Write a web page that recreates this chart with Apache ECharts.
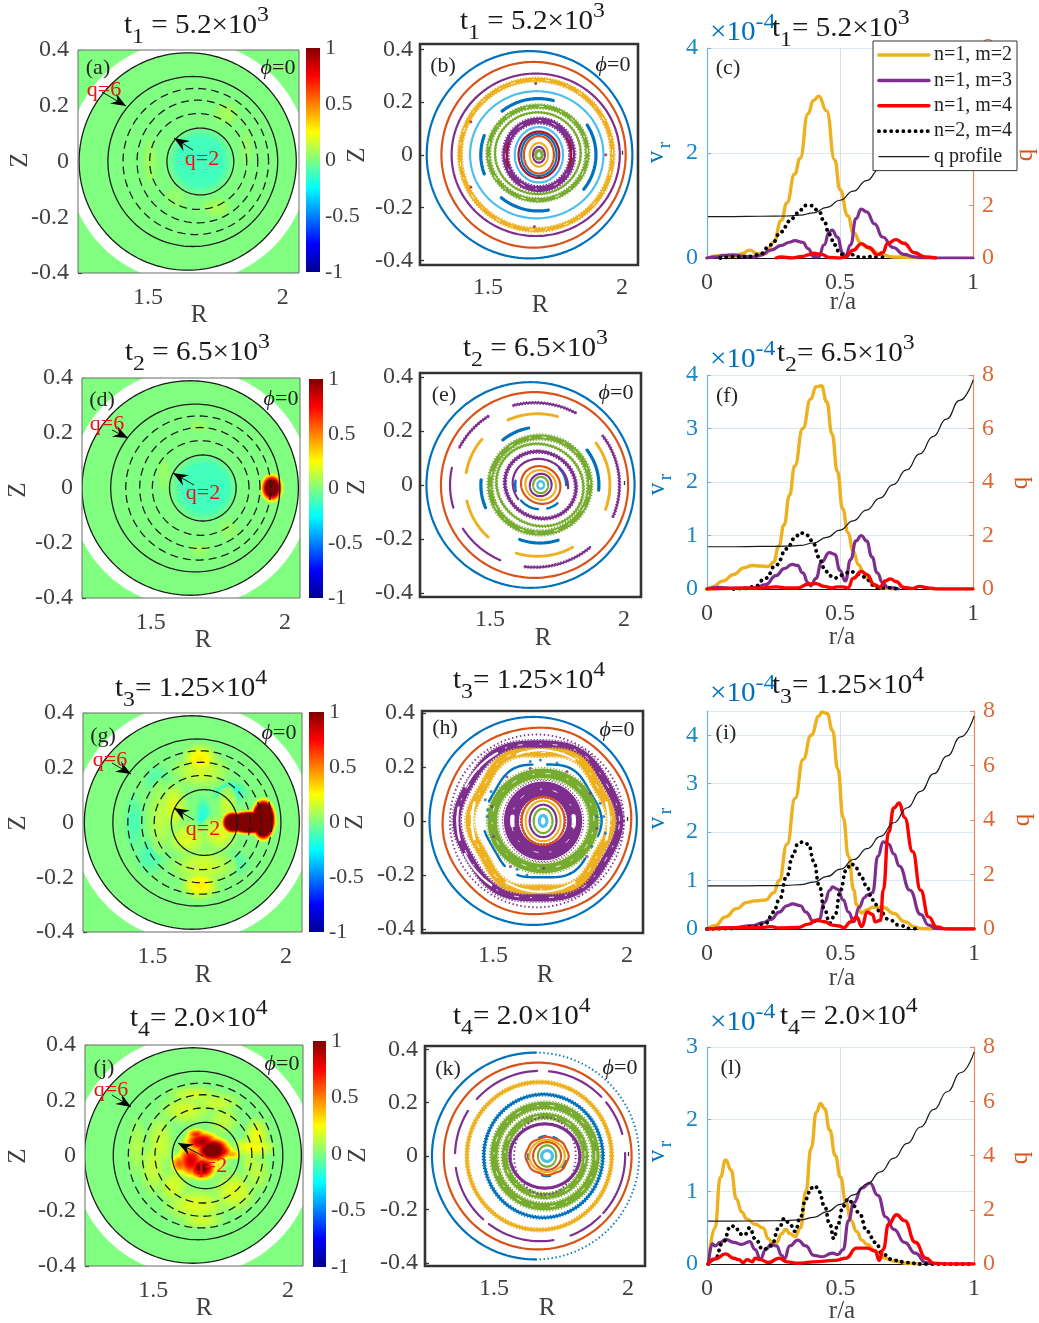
<!DOCTYPE html>
<html><head><meta charset="utf-8">
<style>html,body{margin:0;padding:0;background:#fff}#c{width:1039px;height:1323px}</style>
<script src="https://cdn.jsdelivr.net/npm/echarts@6/dist/echarts.min.js"></script>
</head><body><div id="c"></div>
<script>
// ---------- q surfaces (R centre, Z centre, half-width, half-height)
const surfacesSolid=[[1.647,0,.403,.39],[1.666,0,.315,.305],[1.694,0,.124,.12]];
const surfacesDashed=[[1.677,0,.27,.262],[1.683,0,.224,.22],[1.686,0,.18,.172]];
const annulus=[[1.648,0,.448,.434]];
const plasma=[[1.647,0,.403,.39]];
const cbTicks=[-1,-.5,0,.5,1];
// ---------- field patches: R, Z, half-width, half-height, peak, optional cap
const fieldA=[[1.507,0,.04,.13,.08],[1.79,.172,.07,.06,.09],[1.755,-.165,.08,.05,.09],[1.866,.05,.04,.1,.06],[1.6,-.13,.06,.06,.06],[1.694,0,.145,.145,-.3,-.12]];
const fieldD=[[1.68,.225,.05,.04,.07],[1.68,-.225,.06,.04,.07],[1.55,.05,.04,.1,.06],[1.79,-.15,.06,.06,.06],[1.70,0,.145,.145,-.3,-.13],[1.951,0,.05,.062,1.6]];
const fieldG=[[1.43,0,.05,.15,-.12],[1.515,.155,.07,.08,-.1],[1.49,-.12,.08,.1,-.12],[1.8,-.15,.09,.06,-.12],[1.79,.11,.09,.055,-.2],[1.69,.02,.04,.1,-.2],[1.53,.02,.07,.18,.13],[1.68,.19,.14,.09,.17],[1.69,-.16,.16,.09,.17],[1.578,.058,.07,.12,.2],[1.78,.06,.05,.09,.16],[1.75,-.04,.09,.09,.2],[1.63,-.06,.1,.08,.2],[1.678,.233,.085,.07,.3],[1.678,-.228,.09,.07,.3],[1.915,.01,.054,.09,3],[1.865,0,.115,.05,3],[1.80,0,.05,.05,2]];
const fieldJ=[[1.44,.03,.05,.15,.11],[1.884,-.06,.07,.1,.13],[1.86,-.02,.05,.12,.13],[1.5,-.04,.07,.14,.16],[1.525,.045,.07,.14,.16],[1.735,.19,.12,.055,.16],[1.62,.165,.13,.07,.18],[1.65,.22,.13,.045,.17],[1.68,-.235,.11,.04,.17],[1.575,-.11,.08,.09,.18],[1.66,-.18,.16,.08,.2],[1.8,-.13,.11,.1,.2],[1.76,.13,.08,.08,.14],[1.884,.07,.06,.09,.23],[1.87,.03,.11,.05,.26],[1.686,0,.125,.11,.42],[1.79,.005,.05,.025,.45],[1.60,-.03,.05,.05,.6],[1.66,.075,.05,.03,.7],[1.64,-.02,.07,.08,.85],[1.68,.05,.085,.05,.95],[1.75,.015,.06,.04,.9],[1.68,-.045,.07,.055,1.1],[1.72,.02,.085,.06,1.35]];
// ---------- Poincare rings: R, Z, a, b, band, startDeg, endDeg, kind(0 line,1 grainy,2 dotted), m, amp, phase, tilt
const bBlue=[[1.655,0,.384,.393,.005],[1.688,0,.215,.213,.012,75,130],[1.688,0,.215,.213,.012,160,200],[1.688,0,.215,.213,.012,-38,32],[1.688,0,.215,.213,.012,230,280],[1.69,0,.066,.08,.006]];
const bOrange=[[1.67,0,.344,.352,.005],[1.69,0,.056,.071,.006]];
const bPurple=[[1.678,0,.314,.308,.005],[1.69,0,.125,.13,.026,0,360,1],[1.69,0,.022,.03,.005]];
const bYellow=[[1.68,0,.285,.285,.018,0,360,1],[1.69,0,.034,.045,.007]];
const bCyan=[[1.682,0,.249,.241,.006],[1.69,0,.09,.105,.006]];
const bGreen=[[1.686,.006,.185,.178,.018,0,360,1],[1.686,.006,.16,.155,.006,0,360,1],[1.69,0,.012,.016,.012]];
const bRed=[[1.69,0,.076,.088,.006],[1.69,0,.12,.13,.006,-22,28],[1.69,0,.12,.13,.006,160,200]];
const bDots=[[1.678,.27],[1.436,.125],[1.436,-.122],[1.94,0],[1.673,-.272]];
const eBlue=[[1.651,0,.388,.381,.005],[1.686,0,.22,.215,.012,101,130],[1.686,0,.22,.215,.012,175,203],[1.686,0,.22,.215,.012,250,288],[1.686,0,.22,.215,.012,-5,37],[1.689,0,.095,.09,.009,170,195],[1.689,0,.095,.09,.009,220,265],[1.689,0,.095,.09,.009,285,312],[1.689,0,.095,.09,.009,0,45]];
const eOrange=[[1.666,0,.349,.344,.005],[1.689,0,.075,.068,.005,0,360,0,0,0,0,-30]];
const ePurple=[[1.667,0,.316,.305,.008,61,106,1],[1.667,0,.316,.305,.008,123,154,1],[1.667,0,.316,.305,.008,168,197],[1.667,0,.316,.305,.008,212,246],[1.667,0,.316,.305,.008,263,311,1],[1.667,0,.316,.305,.008,-23,37,1],[1.688,0,.135,.122,.012,0,360,1,0,0,0,-25],[1.688,0,.105,.095,.006,20,240,0,0,0,0,-25],[1.689,0,.04,.042,.005,0,360,0,0,0,0,-30]];
const eYellow=[[1.677,0,.27,.264,.011,74,115],[1.677,0,.27,.264,.011,140,171],[1.677,0,.27,.264,.011,193,227],[1.677,0,.27,.264,.011,253,299],[1.677,0,.27,.264,.011,-20,37],[1.689,0,.058,.054,.007,0,360,0,0,0,0,-30]];
const eGreen=[[1.686,0,.186,.178,.022,0,360,1],[1.686,0,.165,.15,.008,0,360,1,0,0,0,-25],[1.689,0,.028,.03,.005]];
const eCyan=[[1.689,0,.012,.014,.009]];
const hBlue=[[1.65,0,.387,.385,.005],[1.684,0,.215,.215,.009,100,160,0,6,.03,0],[1.684,0,.215,.215,.009,190,230,0,6,.03,0],[1.684,0,.215,.215,.009,245,320,0,6,.03,0],[1.684,0,.215,.215,.009,-15,85,0,6,.03,0]];
const hOrange=[[1.664,0,.351,.346,.005,0,360,0,6,.006,10],[1.687,0,.08,.089,.005]];
const hPurple=[[1.664,0,.325,.32,.005,0,360,2],[1.668,0,.298,.29,.034,0,360,1,6,.02,0],[1.687,0,.118,.118,.066,0,360,1],[1.687,0,.05,.06,.005]];
const hYellow=[[1.677,0,.255,.262,.036,0,360,1,6,.035,0],[1.687,0,.065,.075,.005]];
const hGreen=[[1.687,0,.19,.176,.042,0,360,1],[1.687,0,.035,.045,.005]];
const hCyan=[[1.687,0,.014,.02,.012]];
const hWhite=[[1.687,0,.115,.115,.016,172,188],[1.687,0,.115,.115,.016,-9,9],[1.664,0,.297,.29,.008,120,155],[1.664,0,.297,.29,.008,170,195],[1.664,0,.297,.29,.008,205,235],[1.677,0,.255,.262,.01,165,195],[1.677,0,.255,.262,.01,-15,15],[1.677,0,.255,.262,.006,60,110],[1.677,0,.255,.262,.006,240,300]];
const hDotsBlue=[[1.471,.078],[1.48,.041],[1.493,.109],[1.9,.065],[1.913,.016],[1.919,-.046],[1.869,-.095],[1.59,-.179],[1.627,-.2],[1.789,-.194],[1.677,.226],[1.639,.22],[1.739,.214],[1.478,.016],[1.888,.016]];
const hDotsPurple=[[1.552,.164],[1.639,.195],[1.776,.183],[1.863,.102],[1.888,-.027],[1.851,-.132],[1.689,-.175],[1.565,-.169],[1.502,-.058],[1.496,.053]];
const kBlue=[[1.655,0,.386,.3875,.005,90,270],[1.655,0,.386,.3875,.005,-90,90,2],[1.684,0,.222,.231,.011,0,360,1],[1.698,0,.07,.075,.009,95,115],[1.698,0,.07,.075,.009,175,190],[1.698,0,.07,.075,.009,255,280],[1.698,0,.07,.075,.009,325,345],[1.698,0,.07,.075,.009,50,70]];
const kOrange=[[1.663,0,.35,.35,.005],[1.698,0,.079,.07,.005,0,360,0,8,.02,0],[1.698,0,.052,.052,.005]];
const kPurple=[[1.672,0,.317,.319,.008,92,138],[1.672,0,.317,.319,.008,44,84],[1.672,0,.317,.319,.008,15,40],[1.672,0,.317,.319,.008,148,178],[1.672,0,.317,.319,.008,188,228],[1.672,0,.317,.319,.008,233,280],[1.672,0,.317,.319,.008,-69,-44],[1.672,0,.317,.319,.008,-42,3],[1.69,0,.13,.12,.012],[1.69,0,.115,.145,.005,0,360,2]];
const kYellow=[[1.669,0,.27,.277,.014,0,360,1],[1.698,0,.066,.06,.006]];
const kGreen=[[1.69,0,.19,.19,.032,0,360,1],[1.69,0,.15,.15,.026,0,360,1],[1.698,0,.034,.04,.006]];
const kCyan=[[1.698,0,.02,.02,.012]];
// ---------- mode profiles [r/a, v_r x 1e4]
const qProfile=[[0.005,1.58],[.1,1.58],[.2,1.59],[.3,1.6],[.35,1.63],[.4,1.72],[.45,1.93],[.5,2.2],[.55,2.55],[.6,2.95],[.65,3.4],[.7,3.9],[.75,4.45],[.8,5.05],[.85,5.7],[.9,6.35],[.95,7.05],[1,7.8]];
const cM2=[[0,0],[.05,.05],[.1,.03],[.13,.08],[.16,.15],[.19,.08],[.22,.08],[.25,.3],[.28,.72],[.3,1.05],[.33,1.6],[.35,1.9],[.38,2.75],[.4,3],[.42,3.08],[.45,2.8],[.48,1.87],[.5,1.3],[.53,.8],[.55,.48],[.58,.28],[.6,.2],[.62,.15],[.65,.07],[.7,.02],[.8,0]];
const cM3=[[0,0],[.04,.02],[.06,.05],[.1,.06],[.14,.03],[.18,.02],[.2,.05],[.24,.15],[.28,.24],[.31,.3],[.33,.33],[.36,.3],[.38,.18],[.4,.03],[.42,.02],[.44,.25],[.46,.5],[.47,.53],[.49,.4],[.51,.1],[.52,.02],[.54,.25],[.56,.75],[.58,.93],[.6,.88],[.63,.65],[.66,.4],[.7,.2],[.74,.07],[.78,.02],[.82,0],[1,0]];
const cM4=[[.26,0],[.28,.02],[.32,0],[.36,.03],[.38,.06],[.4,.09],[.43,.07],[.46,.01],[.5,0],[.52,.02],[.55,.15],[.58,.27],[.61,.2],[.64,.06],[.66,.1],[.68,.28],[.71,.35],[.74,.28],[.78,.1],[.82,.02],[.86,0]];
const cN2=[[.05,0],[.1,.02],[.17,.03],[.2,.08],[.24,.25],[.28,.5],[.31,.7],[.34,.85],[.37,1],[.39,1],[.42,.9],[.44,.7],[.46,.45],[.48,.25],[.5,.08],[.52,.03],[.54,.08],[.56,.02],[.6,.01],[.62,.03],[.64,.02],[.68,0]];
const fM2=[[0,0],[.02,.04],[.06,.15],[.1,.27],[.14,.4],[.17,.44],[.2,.43],[.23,.42],[.25,.5],[.27,.8],[.29,1.2],[.31,1.75],[.33,2.3],[.36,3],[.39,3.55],[.41,3.78],[.43,3.8],[.45,3.5],[.47,2.9],[.49,2.2],[.51,1.5],[.53,1.05],[.55,.7],[.57,.45],[.59,.3],[.61,.15],[.63,.06],[.66,.02],[.7,0]];
const fM3=[[0,0],[.04,.03],[.1,.01],[.18,.02],[.22,.08],[.26,.25],[.29,.38],[.32,.46],[.34,.44],[.36,.3],[.38,.12],[.39,.06],[.41,.2],[.43,.5],[.46,.68],[.48,.65],[.5,.35],[.52,.15],[.54,.55],[.56,.9],[.58,1],[.6,.9],[.62,.6],[.64,.3],[.66,.12],[.68,.03],[.72,0]];
const fM4=[[0,0],[.2,.02],[.26,.04],[.3,.02],[.34,.02],[.38,.09],[.41,.1],[.44,.05],[.47,.02],[.49,.04],[.51,.04],[.53,.02],[.55,.2],[.58,.33],[.6,.27],[.63,.08],[.65,.03],[.67,.15],[.69,.19],[.71,.14],[.74,.03],[.77,.01],[.8,.05],[.83,.02],[.87,0],[1,0]];
const fN2=[[.1,0],[.15,.01],[.18,.05],[.22,.2],[.26,.45],[.3,.75],[.33,.95],[.35,1.05],[.38,1],[.4,.85],[.42,.6],[.44,.4],[.46,.25],[.48,.2],[.5,.25],[.52,.3],[.54,.33],[.56,.3],[.58,.25],[.6,.2],[.62,.08],[.64,.02],[.68,.02],[.72,0]];
const iM2=[[0,0],[.03,.07],[.07,.25],[.11,.42],[.15,.55],[.18,.58],[.22,.6],[.25,.75],[.27,1],[.3,1.75],[.33,2.7],[.36,3.5],[.39,4],[.42,4.4],[.43,4.48],[.45,4.45],[.47,4.1],[.49,3.3],[.51,2.3],[.53,1.5],[.55,.8],[.56,.5],[.58,.33],[.6,.4],[.62,.45],[.66,.45],[.7,.32],[.74,.15],[.78,.04],[.8,.01],[.84,0]];
const iM3=[[0,0],[.1,.03],[.17,.07],[.21,.13],[.24,.2],[.27,.35],[.3,.48],[.32,.52],[.35,.48],[.37,.35],[.4,.15],[.42,.2],[.44,.55],[.46,.8],[.47,.87],[.49,.82],[.51,.6],[.53,.35],[.55,.15],[.57,.45],[.59,.65],[.6,.7],[.62,.75],[.64,1.5],[.66,1.8],[.68,1.75],[.7,1.55],[.72,1.3],[.76,.8],[.8,.3],[.83,.08],[.86,0],[1,0]];
const iM4=[[0,0],[.2,.03],[.24,.05],[.27,.02],[.34,.03],[.38,.1],[.41,.18],[.44,.15],[.47,.08],[.5,.06],[.51,.02],[.54,.15],[.56,.25],[.58,.05],[.6,.35],[.62,.3],[.63,.15],[.65,.18],[.66,.8],[.68,2],[.7,2.5],[.72,2.6],[.74,2.3],[.77,1.6],[.8,.8],[.83,.25],[.86,.04],[.9,0],[1,0]];
const iN2=[[0,0],[.1,.01],[.18,.05],[.22,.12],[.25,.35],[.27,.6],[.3,1.1],[.32,1.5],[.34,1.75],[.36,1.8],[.38,1.75],[.4,1.4],[.42,.9],[.44,.4],[.46,.12],[.48,.3],[.5,.8],[.52,1.2],[.54,1.35],[.56,1.25],[.58,1.05],[.6,.85],[.62,.6],[.65,.35],[.68,.2],[.72,.08],[.76,.01],[.8,0]];
const lM2=[[.005,0],[.03,.5],[.05,1.2],[.07,1.44],[.09,1.3],[.11,.9],[.13,.72],[.15,.62],[.18,.55],[.21,.5],[.23,.35],[.245,.28],[.26,.3],[.28,.42],[.295,.48],[.31,.42],[.33,.38],[.35,.5],[.37,1],[.39,1.6],[.41,2.1],[.425,2.22],[.44,2.15],[.46,1.85],[.48,1.5],[.5,1.2],[.52,.85],[.54,.6],[.56,.45],[.58,.33],[.6,.27],[.63,.18],[.66,.09],[.7,.04],[.75,.01],[.8,0]];
const lM3=[[.005,0],[.02,.28],[.03,.25],[.05,.3],[.07,.34],[.1,.3],[.13,.27],[.16,.31],[.18,.2],[.2,.07],[.22,.2],[.24,.27],[.26,.25],[.28,.12],[.29,.07],[.31,.25],[.34,.33],[.37,.25],[.4,.12],[.43,.1],[.47,.15],[.49,.13],[.51,.2],[.53,.6],[.55,.85],[.58,1.05],[.61,1.12],[.64,.95],[.67,.65],[.7,.48],[.74,.3],[.78,.15],[.82,.02],[.85,0]];
const lM4=[[.005,0],[.03,.07],[.07,.14],[.1,.08],[.12,.06],[.135,.02],[.15,.06],[.17,.03],[.18,.08],[.2,.06],[.23,.02],[.27,.08],[.3,.03],[.34,.01],[.4,.03],[.48,.05],[.52,.08],[.56,.22],[.6,.22],[.63,.18],[.645,.05],[.66,.2],[.68,.55],[.71,.68],[.74,.6],[.78,.3],[.82,.08],[.85,.01],[.9,0],[1,0]];
const lN2=[[.005,0],[.03,.07],[.06,.3],[.09,.53],[.11,.5],[.12,.42],[.14,.4],[.16,.5],[.18,.35],[.21,.2],[.24,.25],[.27,.5],[.29,.63],[.31,.55],[.33,.45],[.35,.65],[.37,.9],[.39,1.05],[.405,1.08],[.42,1],[.44,.8],[.46,.55],[.475,.35],[.49,.55],[.51,.8],[.53,.9],[.55,.8],[.57,.7],[.6,.45],[.63,.3],[.66,.13],[.7,.05],[.75,.02],[.8,0],[1,0]];

// ---------- styling and layout
const FONT='Liberation Serif';
const C={blue:'#0072BD',orange:'#D95319',yellow:'#EDB120',purple:'#7E2F8E',green:'#77AC30',cyan:'#4DBEEE',dark:'#A2142F',white:'#ffffff'};
const BG='#80ff80', TICK=24, INK='#404040';
const JET=[[0,[0,0,143]],[.125,[0,0,255]],[.375,[0,255,255]],[.625,[255,255,0]],[.875,[255,0,0]],[1,[128,0,0]]];
function jet(v){let t=Math.max(0,Math.min(1,(v+1)/2));let i=0;while(i<JET.length-2&&t>JET[i+1][0])i++;
  const p=JET[i],q=JET[i+1],f=(t-p[0])/(q[0]-p[0]);return 'rgb('+p[1].map((x,k)=>Math.round(x+(q[1][k]-x)*f)).join(',')+')';}

const grids=[],xAxes=[],yAxes=[],series=[],graphic=[];
function addGrid(l,t,r,b){grids.push({left:l,top:t,width:r-l,height:b-t,show:false,containLabel:false});return grids.length-1;}
function txt(x,y,s,size,col,o){graphic.push(Object.assign({type:'text',x,y,silent:true,z:50,style:{text:s,fontFamily:FONT,fontSize:size,fill:col||'#262626',align:'center',verticalAlign:'middle'}},o&&o.rotation?{rotation:o.rotation}:{}));}
const mc=document.createElement('canvas').getContext('2d');
function w(s,size){mc.font=size+'px "'+FONT+'"';return mc.measureText(s).width*1.08;}
function math(x,base,parts,size,col){let cx=x;parts.forEach(p=>{const kind=p[1]||'n';const sz=kind==='n'?size:Math.round(size*.8);const dy=kind==='sub'?9:kind==='sup'?-13:0;
  graphic.push({type:'text',x:cx,y:base+dy-sz*.32,silent:true,z:50,scaleX:1.08,style:{text:p[0],fontFamily:FONT,fontSize:sz,fill:col||'#1a1a1a',align:'left',verticalAlign:'middle'}});cx+=w(p[0],sz);});}
function frame(g,col,lw){graphic.push({type:'rect',silent:true,z:40,shape:{x:g.left,y:g.top,width:g.width,height:g.height},style:{fill:null,stroke:col,lineWidth:lw}});}
function ticksAxis(gi,min,max,vals,o){return {type:'value',gridIndex:gi,min,max,axisLine:{show:false},splitLine:{show:false},
  axisTick:{show:true,inside:true,length:4,customValues:vals,lineStyle:{color:'#333',width:1.3}},
  axisLabel:{show:true,customValues:vals,fontFamily:FONT,fontSize:TICK,color:INK,margin:o.margin}};}

function ellipsePts(api,r){const [cR,cZ,a,b,,a0=0,a1=360,,m=0,amp=0,ph=0,tilt=0]=r;const out=[];const tr=tilt*Math.PI/180;
  for(let d=a0;d<=a1+.001;d+=2){const t=d*Math.PI/180;const k=1+amp*Math.cos(m*(t-ph*Math.PI/180));
    const x=a*k*Math.cos(t),y=b*k*Math.sin(t);out.push(api.coord([cR+x*Math.cos(tr)-y*Math.sin(tr),cZ+x*Math.sin(tr)+y*Math.cos(tr)]));}return out;}

function ringSeries(gi,axis,col,rows,z){series.push({type:'custom',coordinateSystem:'cartesian2d',xAxisIndex:axis,yAxisIndex:axis,clip:true,silent:true,z:z||3,animation:false,
  data:rows.map((r,i)=>[r[0],r[1],i]),encode:{x:0,y:1},
  renderItem(p,api){const r=rows[p.dataIndex];const th=Math.max(2.2,r[4]*268),kind=r[7]||0;const pts=ellipsePts(api,r);
    const pl=(pts,lw,stroke,dash,cap)=>({type:'polyline',silent:true,shape:{points:pts},style:{fill:null,stroke,lineWidth:lw,lineDash:dash||null,lineCap:cap||'round',lineJoin:'round'}});
    if(kind===2)return pl(pts,1.9,col,[1.4,2.6],'butt');
    if(kind===0)return pl(pts,th,col);
    const inner=r.slice(),outer=r.slice();const d=r[4]*.5;
    inner[2]-=d;inner[3]-=d;outer[2]+=d;outer[3]+=d;
    const kids=[pl(pts,Math.max(2,th*.85),col),pl(ellipsePts(api,outer),1.3,col,[1.2,1.8],'butt'),pl(ellipsePts(api,inner),1.3,col,[1.6,1.4],'butt')];
    if(th>4.5)kids.push(pl(pts,.9,'#fff',[5,11,2,17],'butt'));
    return {type:'group',children:kids};}});}
function dotSeries(axis,col,pts,size){series.push({type:'scatter',xAxisIndex:axis,yAxisIndex:axis,symbol:'circle',symbolSize:size,itemStyle:{color:col},data:pts,silent:true,z:6,animation:false});}

function ellSeries(axis,rows,style,z){series.push({type:'custom',coordinateSystem:'cartesian2d',xAxisIndex:axis,yAxisIndex:axis,clip:true,silent:true,z,animation:false,
  data:rows.map((r,i)=>[r[0],r[1],i]),encode:{x:0,y:1},
  renderItem(p,api){const r=rows[p.dataIndex];return {type:'polygon',silent:true,shape:{points:ellipsePts(api,[r[0],r[1],r[2],r[3]])},style};}});}

// field painted as filled contour levels, low to high, from the patches
function contourDiscs(blobs){const out=[];const lv=[];for(let L=-1;L<-.001;L+=.02)lv.push(-(L+1+.02)); // placeholder order replaced below
  const neg=[],pos=[];for(let i=1;i<=50;i++){neg.push(-i*.02);pos.push(i*.02);}
  neg.concat(pos).forEach(L=>{blobs.forEach(b=>{const peak=b[4],cap=b[5];if(peak*L<=0||Math.abs(L)>Math.abs(peak))return;if(cap!=null&&Math.abs(L)>Math.abs(cap))return;
    const t=Math.sqrt(1-Math.sqrt(L/peak));out.push([b[0],b[1],b[2]*t,b[3]*t,L]);});});return out;}
function fieldSeries(axis,blobs){const discs=contourDiscs(blobs);series.push({type:'custom',coordinateSystem:'cartesian2d',xAxisIndex:axis,yAxisIndex:axis,clip:true,silent:true,z:2,animation:false,
  data:discs.map(d=>[d[0],d[1],d[4]]),encode:{x:0,y:1},
  renderItem(p,api){const b=discs[p.dataIndex];const c=api.coord([b[0],b[1]]),e=api.coord([b[0]+b[2],b[1]+b[3]]);
    return {type:'ellipse',silent:true,shape:{cx:c[0],cy:c[1],rx:Math.abs(e[0]-c[0]),ry:Math.abs(e[1]-c[1])},style:{fill:jet(b[4])}};}});}

function mapPanel(box,xr,blobs,cb){const gi=addGrid(...box);const ax=xAxes.length;
  xAxes.push(ticksAxis(gi,xr[0],xr[1],[1.5,2],{margin:13}));
  yAxes.push(ticksAxis(gi,-.4,.4,[-.4,-.2,0,.2,.4],{margin:9}));
  series.push({type:'custom',coordinateSystem:'cartesian2d',xAxisIndex:ax,yAxisIndex:ax,clip:true,silent:true,z:1,animation:false,data:[[xr[0],-.4,xr[1],.4]],encode:{x:[0,2],y:[1,3]},
    renderItem(p,api){const a=api.coord([xr[0],.4]),b=api.coord([xr[1],-.4]);return {type:'rect',shape:{x:a[0],y:a[1],width:b[0]-a[0],height:b[1]-a[1]},style:{fill:BG}};}});
  ellSeries(ax,annulus,{fill:'#fff'},1);
  ellSeries(ax,plasma,{fill:BG},1);
  fieldSeries(ax,blobs);
  const curve=(rows,dash)=>series.push({type:'custom',coordinateSystem:'cartesian2d',xAxisIndex:ax,yAxisIndex:ax,clip:true,silent:true,z:5,animation:false,
    data:rows.map((r,i)=>[r[0],r[1],i]),encode:{x:0,y:1},
    renderItem(p,api){const r=rows[p.dataIndex];const pts=ellipsePts(api,[r[0],r[1],r[2],r[3]]);return {type:'polyline',silent:true,shape:{points:pts},style:{fill:null,stroke:'#1c1c1c',lineWidth:1.3,lineDash:dash}};}});
  curve(surfacesSolid,null);curve(surfacesDashed,[8,5]);
  frame(grids[gi],'#6a6a6a',1);
  const cg=addGrid(...cb);const ca=xAxes.length;
  xAxes.push({type:'value',gridIndex:cg,min:0,max:1,show:false});
  yAxes.push({type:'value',gridIndex:cg,min:-1,max:1,position:'right',axisLine:{show:false},axisTick:{show:false},splitLine:{show:false},
    axisLabel:{show:true,customValues:cbTicks,fontFamily:FONT,fontSize:22,color:INK,margin:5,formatter:v=>String(v)}});
  series.push({type:'custom',coordinateSystem:'cartesian2d',xAxisIndex:ca,yAxisIndex:ca,clip:false,silent:true,z:3,animation:false,data:[[0,-1,1,1]],encode:{x:[0,2],y:[1,3]},
    renderItem(p,api){const a=api.coord([0,1]),b=api.coord([1,-1]);const stops=JET.map(s=>({offset:1-s[0],color:'rgb('+s[1].join(',')+')'})).reverse();
      return {type:'rect',shape:{x:a[0],y:a[1],width:b[0]-a[0],height:b[1]-a[1]},style:{fill:{type:'linear',x:0,y:0,x2:0,y2:1,colorStops:stops}}};}});
  return ax;}
function poincarePanel(box,xr,yr,layers,dots){const gi=addGrid(...box);const ax=xAxes.length;
  xAxes.push(ticksAxis(gi,xr[0],xr[1],[1.5,2],{margin:11}));
  yAxes.push(ticksAxis(gi,yr[0],yr[1],[-.4,-.2,0,.2,.4],{margin:7}));
  frame(grids[gi],'#333',2.6);
  layers.forEach(l=>ringSeries(gi,ax,l[0],l[1]));
  (dots||[]).forEach(d=>dotSeries(ax,d[0],d[1],d[2]));
  return ax;}
const lineNames=['n=1, m=2','n=1, m=3','n=1, m=4','n=2, m=4','q profile'];
function profilePanel(box,ymax,step,m2,m3,m4,n2){const gi=addGrid(...box);const ax=xAxes.length;
  xAxes.push({type:'value',gridIndex:gi,min:0,max:1,interval:.5,axisLine:{show:true,lineStyle:{color:'#111',width:1.2}},axisTick:{show:false},
    splitLine:{show:true,showMinLine:false,showMaxLine:false,lineStyle:{color:'#d5dfe8',width:1}},
    axisLabel:{fontFamily:FONT,fontSize:TICK,color:INK,margin:13,formatter:v=>String(v)}});
  const yl=yAxes.length;
  yAxes.push({type:'value',gridIndex:gi,min:0,max:ymax,interval:step,position:'left',axisLine:{show:true,lineStyle:{color:'#6fb2dd',width:1.2}},
    axisTick:{show:true,inside:true,length:4,lineStyle:{color:'#6fb2dd'}},splitLine:{show:true,lineStyle:{color:'#d9e9f5',width:1.2}},
    axisLabel:{fontFamily:FONT,fontSize:TICK,color:'#1a85c8',margin:9,showMaxLabel:ymax%step===0}});
  yAxes.push({type:'value',gridIndex:gi,min:0,max:8,interval:2,position:'right',axisLine:{show:true,onZero:false,lineStyle:{color:'#e58a5e',width:1.2}},
    axisTick:{show:true,inside:true,length:4,lineStyle:{color:'#e58a5e'}},splitLine:{show:false},
    axisLabel:{fontFamily:FONT,fontSize:TICK,color:'#dc6a36',margin:9}});
  const mk=(name,data,col,lw,y,dash)=>series.push({name,type:'line',xAxisIndex:ax,yAxisIndex:y,data,showSymbol:false,symbol:'none',smooth:.5,smoothMonotone:'x',clip:true,silent:true,animation:false,z:name==='q profile'?6:4,
    lineStyle:{color:col,width:lw,type:dash||'solid',cap:'round',join:'round'},itemStyle:{color:col}});
  mk(lineNames[0],m2,C.yellow,3.4,yl);
  mk(lineNames[1],m3,C.purple,3.2,yl);
  mk(lineNames[3],n2,'#000',3.8,yl,[.1,6]);
  mk(lineNames[2],m4,'#ff0000',3.4,yl);
  mk(lineNames[4],qProfile,'#1a1a1a',1.2,yl+1);
  return ax;}

mapPanel([78,50,299,273],[1.24,2.06],fieldA,[306,48,320,272]);
mapPanel([82,378,300,598],[1.244,2.056],fieldD,[309,379,323,598]);
mapPanel([83,713,302,932],[1.239,2.06],fieldG,[309,712,324,932]);
mapPanel([85,1045,303,1266],[1.246,2.056],fieldJ,[313,1041,326,1267]);
poincarePanel([420,44,638,265],[1.246,2.06],[-.418,.42],[[C.blue,bBlue],[C.orange,bOrange],[C.purple,bPurple],[C.yellow,bYellow],[C.cyan,bCyan],[C.green,bGreen],[C.dark,bRed]],[[C.dark,bDots,3]]);
poincarePanel([420,373,641,597],[1.239,2.063],[-.415,.415],[[C.blue,eBlue],[C.orange,eOrange],[C.purple,ePurple],[C.yellow,eYellow],[C.green,eGreen],[C.cyan,eCyan]]);
poincarePanel([422,711,643,933],[1.235,2.06],[-.415,.407],[[C.blue,hBlue],[C.purple,hPurple],[C.yellow,hYellow],[C.green,hGreen],[C.orange,hOrange],[C.cyan,hCyan],[C.white,hWhite]],[[C.blue,hDotsBlue,3],[C.purple,hDotsPurple,3]]);
poincarePanel([425,1046,645,1266],[1.243,2.063],[-.412,.412],[[C.blue,kBlue],[C.orange,kOrange],[C.yellow,kYellow],[C.green,kGreen],[C.purple,kPurple],[C.cyan,kCyan]]);
profilePanel([707,48,973,258],4,2,cM2,cM3,cM4,cN2);
profilePanel([707,375,973,589],4,1,fM2,fM3,fM4,fN2);
profilePanel([707,711,974,929],4.5,1,iM2,iM3,iM4,iN2);
profilePanel([707,1047,974,1264],3,1,lM2,lM3,lM4,lN2);

// ---------- annotations
const arrow=(x0,y0,x1,y1)=>{graphic.push({type:'line',silent:true,z:45,shape:{x1:x0,y1:y0,x2:x1,y2:y1},style:{stroke:'#111',lineWidth:1}});
  const a=Math.atan2(y1-y0,x1-x0),L=15,W=6;const bx=x1-L*Math.cos(a),by=y1-L*Math.sin(a),nx=-Math.sin(a),ny=Math.cos(a);const ix=x1-L*.65*Math.cos(a),iy=y1-L*.65*Math.sin(a);
  graphic.push({type:'polygon',silent:true,z:45,shape:{points:[[x1,y1],[bx+nx*W,by+ny*W],[ix,iy],[bx-nx*W,by-ny*W]]},style:{fill:'#000'}});};
[[104,90,102,92,126,106,202,159,193,150,174,138],[107,424,112,430,128,438,203,493,194,485,173,473],[110,760,112,763,131,774,203,829,194,820,174,808],[111,1090,112,1095,131,1107,210,1166,203,1156,178,1143]].forEach(q=>{
  arrow(q[2],q[3],q[4],q[5]);arrow(q[8],q[9],q[10],q[11]);txt(q[0],q[1],'q=6',22,'#f01010');txt(q[6],q[7],'q=2',22,'#f01010');});
[['(a)',98,68],['(b)',443,66],['(c)',728,68],['(d)',102,400],['(e)',444,395],['(f)',727,396],['(g)',103,736],['(h)',445,728],['(i)',726,733],['(j)',104,1068],['(k)',448,1069],['(l)',731,1068]].forEach(l=>txt(l[1],l[2],l[0],22));
[[278,68],[613,65],[281,399],[616,393],[279,733],[617,730],[282,1064],[620,1068]].forEach(p=>{graphic.push({type:'text',x:p[0],y:p[1],silent:true,z:50,style:{text:'{i|ϕ}=0',fontFamily:FONT,fontSize:22,fill:'#222',align:'center',verticalAlign:'middle',rich:{i:{fontStyle:'italic',fontFamily:FONT,fontSize:22,fill:'#222'}}}});});
[[199,315],[203,640],[203,975],[204,1308],[540,305],[543,638],[545,975],[547,1308]].forEach(p=>txt(p[0],p[1],'R',25,INK));
[[20,160],[18,490],[18,823],[18,1156],[357,155],[357,487],[355,822],[358,1155]].forEach(p=>txt(p[0],p[1],'Z',25,INK,{rotation:Math.PI/2}));
[[843,302],[842,637],[842,978],[842,1311]].forEach(p=>txt(p[0],p[1],'r/a',25,INK));
[[656,157],[657,489],[657,823],[657,1156]].forEach(p=>{txt(p[0],p[1],'v',25,C.blue,{rotation:Math.PI/2});txt(p[0]+9,p[1]-12,'r',19,C.blue,{rotation:Math.PI/2});});
[[1025,155],[1020,483],[1022,820],[1020,1158]].forEach(p=>txt(p[0],p[1],'q',25,C.orange,{rotation:Math.PI/2}));
const T=27;
math(124,35,[['t'],['1','sub'],[' = 5.2×10'],['3','sup']],T);
math(460,31,[['t'],['1','sub'],[' = 5.2×10'],['3','sup']],T);
math(710,42,[['×10'],['-4','sup']],T,C.blue);
math(772,38,[['t'],['1','sub'],['= 5.2×10'],['3','sup']],T);
math(125,362,[['t'],['2','sub'],[' = 6.5×10'],['3','sup']],T);
math(463,358,[['t'],['2','sub'],[' = 6.5×10'],['3','sup']],T);
math(710,369,[['×10'],['-4','sup']],T,C.blue);
math(777,363,[['t'],['2','sub'],['= 6.5×10'],['3','sup']],T);
math(115,698,[['t'],['3','sub'],['= 1.25×10'],['4','sup']],T);
math(453,690,[['t'],['3','sub'],['= 1.25×10'],['4','sup']],T);
math(710,703,[['×10'],['-4','sup']],T,C.blue);
math(772,695,[['t'],['3','sub'],['= 1.25×10'],['4','sup']],T);
math(130,1028,[['t'],['4','sub'],['= 2.0×10'],['4','sup']],T);
math(453,1026,[['t'],['4','sub'],['= 2.0×10'],['4','sup']],T);
math(710,1032,[['×10'],['-4','sup']],T,C.blue);
math(780,1026,[['t'],['4','sub'],['= 2.0×10'],['4','sup']],T);

const legendWidths=[3.5,3.5,3.5,3.8,1.2];
const chart=echarts.init(document.getElementById('c'),null,{renderer:'canvas',width:1039,height:1323});
chart.setOption({animation:false,backgroundColor:'#fff',grid:grids,xAxis:xAxes,yAxis:yAxes,series,graphic:{elements:graphic},
  legend:{show:true,orient:'vertical',left:873,top:41,padding:[4,5,4,4],itemWidth:50,itemHeight:14,itemGap:5.4,selectedMode:false,itemStyle:{opacity:0},
    data:lineNames.map((n,i)=>({name:n,lineStyle:{width:legendWidths[i]},itemStyle:{opacity:0}})),textStyle:{fontFamily:FONT,fontSize:20,color:'#222'},backgroundColor:'#fff',borderColor:'#333',borderWidth:1,z:30}});
</script></body></html>
